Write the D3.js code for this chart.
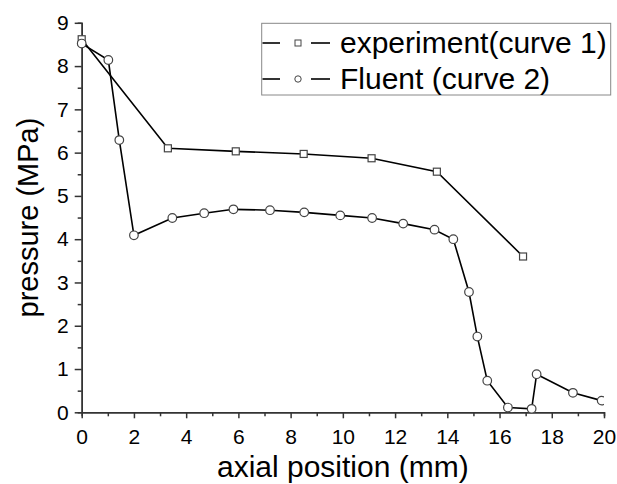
<!DOCTYPE html>
<html>
<head>
<meta charset="utf-8">
<script src="https://cdn.jsdelivr.net/npm/d3@7/dist/d3.min.js"></script>
<style>
  body { margin: 0; background: #fff; }
  svg text { font-family: "Liberation Sans", Arial, sans-serif; fill: #000; }
</style>
</head>
<body>
<svg id="chart"></svg>
<script>
/* data */
const xExperiment = [0, 3.3, 5.9, 8.5, 11.1, 13.6, 16.9]
const pExperiment = [8.62, 6.1, 6.03, 5.97, 5.87, 5.56, 3.6]

const xFluent = [0, 1.02, 1.44, 2.0, 3.47, 4.69, 5.81, 7.21, 8.52, 9.9, 11.12, 12.31, 13.51, 14.23, 14.83, 15.15, 15.53, 16.32, 17.23, 17.42, 18.81, 19.91]
const pFluent = [8.52, 8.14, 6.29, 4.09, 4.49, 4.6, 4.69, 4.67, 4.62, 4.55, 4.49, 4.36, 4.22, 4.0, 2.78, 1.75, 0.73, 0.11, 0.08, 0.88, 0.45, 0.27]

const xTicks = [0, 2, 4, 6, 8, 10, 12, 14, 16, 18, 20]
const xMinorTicks = [1, 3, 5, 7, 9, 11, 13, 15, 17, 19]
const yTicks = [0, 1, 2, 3, 4, 5, 6, 7, 8, 9]
const yMinorTicks = [0.5, 1.5, 2.5, 3.5, 4.5, 5.5, 6.5, 7.5, 8.5]

const legendLabels = ['experiment(curve 1)', 'Fluent (curve 2)']
const xTitle = 'axial position (mm)'
const yTitle = 'pressure (MPa)'

const width = 617, height = 484
const margin = {top: 22.8, right: 13, bottom: 71.7, left: 81.7}

const svg = d3.select('#chart')
    .attr('width', width)
    .attr('height', height)

const xScale = d3.scaleLinear()
    .domain([0, 20])
    .range([margin.left, width - margin.right])

const yScale = d3.scaleLinear()
    .domain([0, 9])
    .range([height - margin.bottom, margin.top])

/* clip so the last marker is cut at the frame like in the original */
svg.append('clipPath')
    .attr('id', 'plotClip')
    .append('rect')
    .attr('x', 0)
    .attr('y', 0)
    .attr('width', xScale(20))
    .attr('height', height)

/* axes */
const styleAxis = (g) => {
    g.select('.domain').attr('stroke', '#333').attr('stroke-width', 1.5)
    g.selectAll('.tick line').attr('stroke', '#333').attr('stroke-width', 1.5)
    g.selectAll('.tick text').style('font-size', '21px')
}

svg.append('g')
    .attr('transform', 'translate(0,' + yScale(0) + ')')
    .call(d3.axisBottom(xScale).tickValues(xMinorTicks).tickSize(4).tickFormat(''))
    .call(styleAxis)

svg.append('g')
    .attr('transform', 'translate(' + xScale(0) + ',0)')
    .call(d3.axisLeft(yScale).tickValues(yMinorTicks).tickSize(4).tickFormat(''))
    .call(styleAxis)

svg.append('g')
    .attr('transform', 'translate(0,' + yScale(0) + ')')
    .call(d3.axisBottom(xScale).tickValues(xTicks).tickSize(6).tickSizeOuter(0).tickPadding(11).tickFormat(d3.format('d')))
    .call(styleAxis)

svg.append('g')
    .attr('transform', 'translate(' + xScale(0) + ',0)')
    .call(d3.axisLeft(yScale).tickValues(yTicks).tickSize(7).tickSizeOuter(0).tickPadding(6).tickFormat(d3.format('d')))
    .call(styleAxis)

/* axis titles */
svg.append('text')
    .attr('x', (xScale(0) + xScale(20)) / 2)
    .attr('y', 477)
    .attr('text-anchor', 'middle')
    .style('font-size', '30px')
    .text(xTitle)

svg.append('text')
    .attr('transform', 'rotate(-90)')
    .attr('x', -(yScale(0) + yScale(9)) / 2)
    .attr('y', 38)
    .attr('text-anchor', 'middle')
    .style('font-size', '29px')
    .text(yTitle)

/* curves */
const line = d3.line()
    .x(d => xScale(d[0]))
    .y(d => yScale(d[1]))

const expData = xExperiment.map((x, i) => [x, pExperiment[i]])
const fluData = xFluent.map((x, i) => [x, pFluent[i]])

const plot = svg.append('g').attr('clip-path', 'url(#plotClip)')

plot.append('path')
    .datum(expData)
    .attr('d', line)
    .attr('fill', 'none')
    .attr('stroke', '#000')
    .attr('stroke-width', 1.6)

plot.append('path')
    .datum(fluData)
    .attr('d', line)
    .attr('fill', 'none')
    .attr('stroke', '#000')
    .attr('stroke-width', 1.6)

plot.selectAll('.sq')
    .data(expData)
    .enter()
    .append('rect')
    .attr('class', 'sq')
    .attr('x', d => xScale(d[0]) - 3.5)
    .attr('y', d => yScale(d[1]) - 3.5)
    .attr('width', 7)
    .attr('height', 7)
    .attr('fill', '#fff')
    .attr('stroke', '#444')
    .attr('stroke-width', 1.2)

plot.selectAll('.ci')
    .data(fluData)
    .enter()
    .append('circle')
    .attr('class', 'ci')
    .attr('cx', d => xScale(d[0]))
    .attr('cy', d => yScale(d[1]))
    .attr('r', 4.3)
    .attr('fill', '#fff')
    .attr('stroke', '#444')
    .attr('stroke-width', 1.2)

/* legend */
const legend = svg.append('g')

legend.append('rect')
    .attr('x', 261.7)
    .attr('y', 23.3)
    .attr('width', 349)
    .attr('height', 71.7)
    .attr('fill', '#fff')
    .attr('stroke', '#888')
    .attr('stroke-width', 1)

const rowY = [43, 79]

legendLabels.forEach((label, i) => {
    const y = rowY[i]
    legend.append('line').attr('x1', 262.5).attr('x2', 280).attr('y1', y).attr('y2', y)
        .attr('stroke', '#000').attr('stroke-width', 1.6)
    legend.append('line').attr('x1', 311).attr('x2', 330).attr('y1', y).attr('y2', y)
        .attr('stroke', '#000').attr('stroke-width', 1.6)
    if (i === 0) {
        legend.append('rect').attr('x', 295).attr('y', y - 3).attr('width', 6).attr('height', 6)
            .attr('fill', '#fff').attr('stroke', '#444').attr('stroke-width', 1)
    } else {
        legend.append('circle').attr('cx', 298).attr('cy', y).attr('r', 3.2)
            .attr('fill', '#fff').attr('stroke', '#444').attr('stroke-width', 1)
    }
    legend.append('text')
        .attr('x', 340)
        .attr('y', y + 10)
        .style('font-size', '30px')
        .text(label)
})
</script>
</body>
</html>
